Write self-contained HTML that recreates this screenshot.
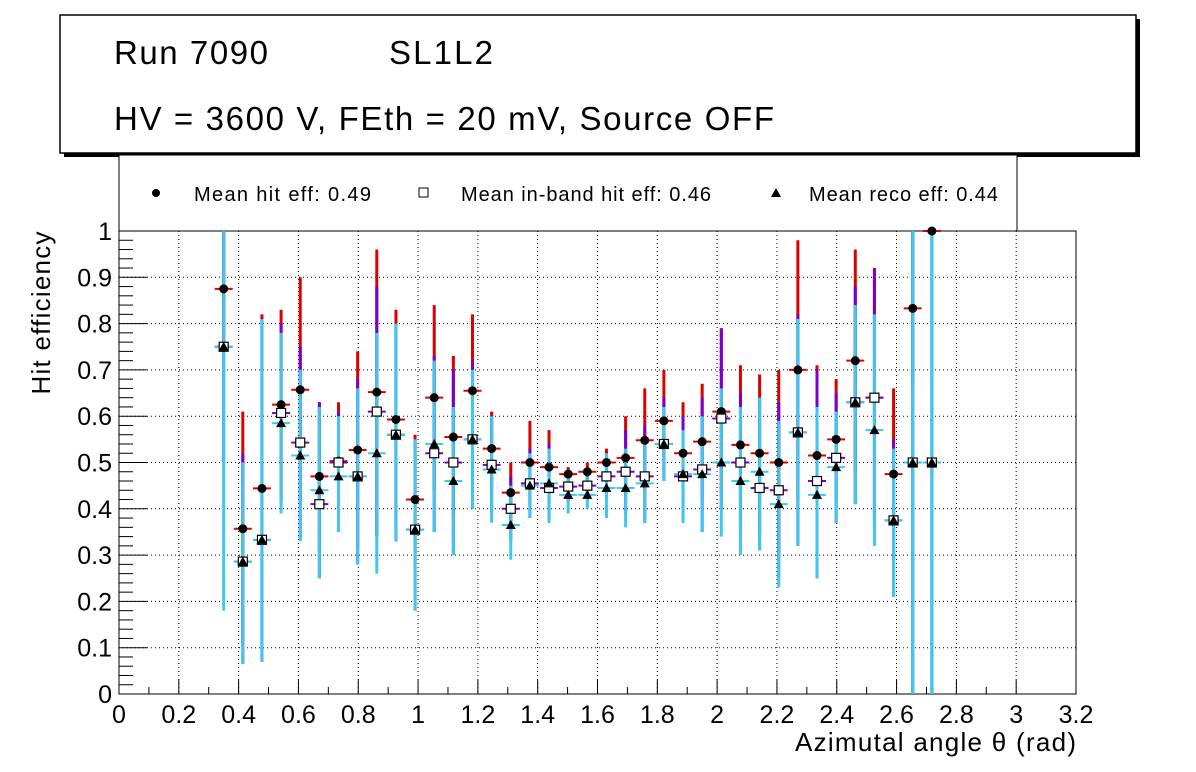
<!DOCTYPE html>
<html><head><meta charset="utf-8"><style>
body{margin:0;background:#fff;}
svg{display:block;font-family:"Liberation Sans",sans-serif;}
</style></head><body>
<svg id="c" width="1196" height="772">
<rect x="0" y="0" width="1196" height="772" fill="#fff"/>
<rect x="64" y="19" width="1076" height="138" fill="#000"/>
<rect x="60" y="15" width="1076" height="138" fill="#fff" stroke="#000" stroke-width="1.5"/>
<text x="114" y="64" font-size="33" textLength="154">Run 7090</text>
<text x="389" y="64" font-size="33" textLength="104">SL1L2</text>
<text x="114" y="130" font-size="33" textLength="660">HV = 3600 V, FEth = 20 mV, Source OFF</text>
<rect x="119" y="155" width="898" height="76" fill="#fff" stroke="#000" stroke-width="1"/>
<g><circle cx="156" cy="193" r="4" fill="#000"/><text x="194" y="201" font-size="20" textLength="177">Mean hit  eff: 0.49</text></g>
<g><rect x="419" y="188" width="9" height="9" fill="#fff" stroke="#000"/><text x="461" y="201" font-size="20" textLength="250">Mean in-band hit eff: 0.46</text></g>
<g><polygon points="776,188 771,197 781,197" fill="#000"/><text x="809" y="201" font-size="20" textLength="189">Mean reco eff: 0.44</text></g>
<g id="plot"></g>
<text x="50" y="313" font-size="26" textLength="163" transform="rotate(-90 50 313)" text-anchor="middle">Hit efficiency</text>
<text x="1076" y="751" font-size="26" textLength="281" text-anchor="end">Azimutal angle θ (rad)</text>
</svg>
<script>
const xs=[0.35,0.414,0.478,0.542,0.606,0.67,0.734,0.798,0.862,0.926,0.99,1.054,1.118,1.182,1.246,1.31,1.374,1.438,1.502,1.566,1.63,1.694,1.758,1.822,1.886,1.95,2.014,2.078,2.142,2.206,2.27,2.334,2.398,2.462,2.526,2.59,2.654,2.718];
const hit=[0.875,0.357,0.444,0.625,0.657,0.47,0.503,0.527,0.652,0.593,0.42,0.64,0.555,0.655,0.53,0.435,0.5,0.49,0.475,0.48,0.5,0.51,0.548,0.59,0.52,0.545,0.61,0.538,0.52,0.5,0.7,0.515,0.55,0.72,0.64,0.475,0.833,1.0];
const hitHi=[1.0,0.61,0.82,0.83,0.9,0.63,0.63,0.74,0.96,0.83,0.56,0.84,0.73,0.82,0.61,0.5,0.59,0.57,0.49,0.5,0.53,0.6,0.66,0.7,0.63,0.67,0.79,0.71,0.69,0.7,0.98,0.71,0.68,0.96,0.9,0.66,1.0,1.0];
const inband=[0.75,0.286,0.333,0.607,0.543,0.41,0.5,0.47,0.61,0.56,0.355,0.52,0.5,0.55,0.495,0.4,0.455,0.445,0.448,0.45,0.47,0.48,0.47,0.54,0.47,0.485,0.595,0.5,0.445,0.44,0.565,0.46,0.51,0.63,0.64,0.375,0.5,0.5];
const inbHi=[1.0,0.52,0.81,0.8,0.75,0.63,0.61,0.68,0.88,0.8,0.55,0.73,0.7,0.72,0.6,0.47,0.53,0.54,0.48,0.48,0.52,0.57,0.58,0.64,0.6,0.64,0.79,0.65,0.64,0.63,0.82,0.7,0.65,0.88,0.92,0.55,1.0,1.0];
const reco=[0.75,0.286,0.333,0.585,0.515,0.44,0.47,0.47,0.52,0.56,0.355,0.54,0.46,0.55,0.485,0.365,0.45,0.455,0.43,0.43,0.445,0.445,0.455,0.54,0.475,0.475,0.5,0.46,0.48,0.41,0.565,0.43,0.49,0.63,0.57,0.375,0.5,0.5];
const recoLo=[0.18,0.065,0.07,0.39,0.33,0.25,0.35,0.28,0.26,0.33,0.18,0.35,0.3,0.4,0.37,0.29,0.38,0.37,0.39,0.4,0.38,0.36,0.37,0.46,0.37,0.35,0.34,0.3,0.31,0.23,0.32,0.25,0.37,0.41,0.32,0.21,0.0,0.0];
const recoHi=[1.0,0.5,0.81,0.78,0.7,0.62,0.6,0.66,0.78,0.8,0.55,0.72,0.62,0.7,0.6,0.45,0.52,0.53,0.47,0.47,0.52,0.53,0.54,0.62,0.57,0.6,0.66,0.62,0.64,0.59,0.81,0.62,0.61,0.84,0.82,0.53,1.0,1.0];
const xTicks=["0","0.2","0.4","0.6","0.8","1","1.2","1.4","1.6","1.8","2","2.2","2.4","2.6","2.8","3","3.2"];
const yTicks=["0","0.1","0.2","0.3","0.4","0.5","0.6","0.7","0.8","0.9","1"];
const X=v=>119+v*(1076-119)/3.2, Y=v=>694-v*463;
const NS="http://www.w3.org/2000/svg", g=document.getElementById('plot');
function mk(t,a){const e=document.createElementNS(NS,t);for(const k in a)e.setAttribute(k,a[k]);g.appendChild(e);return e;}
for(let i=0;i<xTicks.length;i++){const v=i*0.2,x=X(v);
 const l=mk('line',{x1:x,x2:x,y1:231,y2:694,stroke:'#000','stroke-dasharray':'1,3','stroke-width':1});
 
 const t=mk('line',{x1:x,x2:x,y1:694,y2:680,stroke:'#000'});
 
 const tx=mk('text',{x:x,y:723,'font-size':25,'text-anchor':'middle'});tx.textContent=xTicks[i];
 }
for(let i=1;i<16;i++){const x=X(i*0.2-0.1);mk('line',{x1:x,x2:x,y1:694,y2:687,stroke:'#000'});}
for(let i=0;i<yTicks.length;i++){const v=i*0.1,y=Y(v);
 const l=mk('line',{x1:119,x2:1076,y1:y,y2:y,stroke:'#000','stroke-dasharray':'1,3','stroke-width':1});
 
 mk('line',{x1:119,x2:147,y1:y,y2:y,stroke:'#000'});
 const tx=mk('text',{x:112,y:y+9,'font-size':25,'text-anchor':'end'});tx.textContent=yTicks[i];
 }
for(let i=0;i<50;i++){const y=Y(i*0.02);if(i%5)mk('line',{x1:119,x2:133,y1:y,y2:y,stroke:'#000'});}
const fr=mk('rect',{x:119,y:231,width:957,height:463,fill:'none',stroke:'#000'});

const hw=X(0.03)-X(0);
for(let i=0;i<xs.length;i++){const x=X(xs[i]);
 const hl=Math.max(recoLo[i],2*hit[i]-hitHi[i]), il=Math.max(recoLo[i],2*inband[i]-inbHi[i]);
 const a=mk('line',{x1:x,x2:x,y1:Y(hitHi[i]),y2:Y(hl),stroke:'#d00','stroke-width':3});
 
 mk('line',{x1:x-hw,x2:x+hw,y1:Y(hit[i]),y2:Y(hit[i]),stroke:'#d00','stroke-width':2});
 const b=mk('line',{x1:x,x2:x,y1:Y(inbHi[i]),y2:Y(il),stroke:'#7a00d0','stroke-width':3});
 
 mk('line',{x1:x-hw,x2:x+hw,y1:Y(inband[i]),y2:Y(inband[i]),stroke:'#7a00d0','stroke-width':2});
 const c=mk('line',{x1:x,x2:x,y1:Y(recoHi[i]),y2:Y(recoLo[i]),stroke:'#3cc8f0','stroke-width':3});
 
 mk('line',{x1:x-hw,x2:x+hw,y1:Y(reco[i]),y2:Y(reco[i]),stroke:'#3cc8f0','stroke-width':2});}
for(let i=0;i<xs.length;i++){const x=X(xs[i]);
 const p=mk('circle',{cx:x,cy:Y(hit[i]),r:4.5,fill:'#000'});
 
 const s=mk('rect',{x:x-4.5,y:Y(inband[i])-4.5,width:9,height:9,fill:'#fff',stroke:'#000','stroke-width':1.2});
 
 const ry=Y(reco[i]);
 const t=mk('polygon',{points:`${x},${ry-5} ${x-5},${ry+4} ${x+5},${ry+4}`,fill:'#000'});
 }
</script>
</body></html>
